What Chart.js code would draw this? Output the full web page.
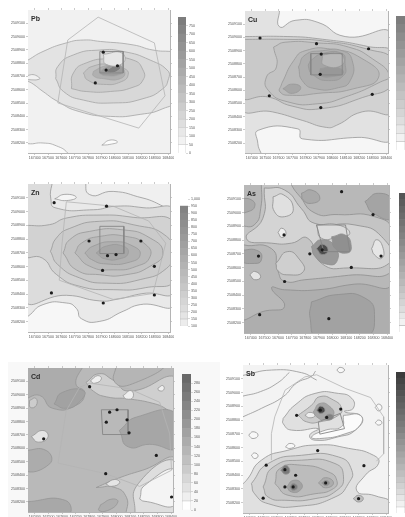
<!DOCTYPE html>
<html>
<head>
<meta charset="utf-8">
<script src="https://cdn.jsdelivr.net/npm/chart.js@4"></script>
<style>
  html, body { margin: 0; background: #fff; overflow: hidden; width: 405px; height: 517px; }
  canvas { position: absolute; filter: blur(0.7px); }
  #cdBack { position: absolute; left: 8px; top: 362px; width: 212px; height: 155px; background: #f8f8f8; }
</style>
</head>
<body>
<div id="cdBack"></div>
<script>
// map units are percent of each frame, x from west, y from south
const fullFrame = [[-30, -30], [130, -30], [130, 130], [-30, 130]];

const xTickValues = [4.7, 14.1, 23.5, 32.9, 42.3, 51.7, 61.1, 70.5, 79.9, 89.3, 98.7];
const yTickValues = [7, 16.3, 25.6, 34.9, 44.2, 53.5, 62.8, 72.1, 81.4, 90.7];
const xTickLabels = ["167400", "167500", "167600", "167700", "167800", "167900", "168000", "168100", "168200", "168300", "168400"];
const yTickLabels = ["2508200", "2508300", "2508400", "2508500", "2508600", "2508700", "2508800", "2508900", "2509000", "2509100"];

// Pb
const pbContours = [
  fullFrame,
  [[-1, 8], [0, 6.5], [10.6, 7], [20, 5], [28, 0], [28, -3], [-1, -3]],
  [[0, 65], [10.6, 71], [27, 77], [39, 79], [51, 78], [74, 75.6], [88, 72], [101, 71], [103, 71], [103, 37], [95, 31], [79, 27], [58, 25.6], [36, 29], [21, 36], [10.6, 43], [2.4, 49], [-2, 51], [8, 51.6], [4.7, 54.6], [-2, 55], [-2, 64]],
  [[19.5, 52], [21, 60.5], [32, 68.6], [50.6, 72], [67, 71], [86, 65], [99, 57], [99, 52], [95, 45], [81, 38], [60, 35], [39, 37], [25, 43]],
  [[30.6, 45], [32, 56], [41, 63], [58, 66], [74, 65], [81, 58], [81, 51], [74, 46], [58, 43], [41, 43]],
  [[39, 56], [45, 60.5], [58, 62], [68, 59], [70.6, 55], [66, 50], [53, 48], [42, 51]],
  [[46, 57], [53, 60.5], [62, 62], [68, 57], [65, 52], [53, 52], [46, 54]],
  [[50.6, 57], [55, 60], [62, 63], [67, 58], [65, 55], [55, 54], [50.6, 55.7]],
  [[54, 58], [58, 59.5], [62.5, 63], [65, 60.5], [64, 58], [58, 56]],
  [[53, 69], [66, 70], [67, 63], [55, 62]],
  [[52, 5.5], [57.6, 9], [63, 7.7], [57.6, 6]]
];
const pbShades = ["#f1f1f1", "#fafafa", "#e3e3e3", "#d8d8d8", "#cdcdcd", "#c2c2c2", "#b0b0b0", "#9c9c9c", "#7e7e7e", "#e6e6e6", "#fcfcfc"];
const pbSamples = [[63, 61], [55, 58], [47.4, 49], [53, 70.5]];
const pbBoundary = [[49.4, 95], [89, 77], [96.5, 40], [78, 17.4], [21, 35], [28, 79], [49.4, 95]];
const pbBox = [[50.6, 71], [67, 71], [67, 56], [50.6, 56], [50.6, 71]];

// Cu
const cuContours = [
  fullFrame,
  [[-3, 104], [22, 104], [24, 89], [35, 93.4], [51, 92], [70, 82], [104, 82], [104, 12.4], [79, 11], [40, 10], [37, 17], [9.3, 16], [9, 6.6], [10.5, -3], [-3, -3]],
  [[-3, 82], [30, 82], [51, 80.5], [86, 75], [104, 69], [104, 30], [82, 29], [64, 19.5], [57, 18], [40, 23], [19, 29], [-3, 32.4]],
  [[-3, 80], [30, 80], [54, 79], [86, 73], [104, 65], [104, 49], [82, 39], [53, 31.2], [33, 33], [16, 39.5], [-3, 40.6]],
  [[20, 74.6], [22, 60.6], [15, 53.5], [16.4, 44], [30, 36], [51, 34.7], [70, 39.4], [94.6, 50], [101, 54.7], [89, 66.4], [72.4, 74.6], [51, 77.5], [28, 78]],
  [[25.7, 49], [34, 65], [42, 72], [61, 73], [82, 66.4], [93.5, 53.5], [75, 45], [51, 42], [33, 40.6], [24.5, 43]],
  [[37.4, 60.6], [42, 69], [54, 72], [68, 72], [75, 65], [73.6, 51], [65.4, 46], [49, 45.3], [40, 51]],
  [[45.6, 65], [54, 70], [68, 70], [70, 63], [69, 54.7], [58.4, 51], [48, 54.7], [44.4, 60.6]],
  [[52.6, 59.4], [62, 60.6], [69, 57], [62, 54], [52.6, 54.7]],
  [[26.5, 45.3], [32.7, 48.5], [39, 46], [33, 42]],
  [[54, 69], [66.6, 70], [68, 62], [55, 62]]
];
const cuShades = ["#f6f6f6", "#e2e2e2", "#d2d2d2", "#c9c9c9", "#c3c3c3", "#b9b9b9", "#aeaeae", "#a4a4a4", "#989898", "#a6a6a6", "#b8b8b8"];
const cuSamples = [[10.5, 81], [50, 77], [86.4, 73.4], [53.3, 69.7], [52.6, 55.4], [17, 40.3], [89, 41.3], [53, 32]];
const cuBoundary = [];
const cuBox = [[46, 55], [68, 55], [68, 70], [46, 70], [46, 55]];

// Zn
const znContours = [
  fullFrame,
  [[-3, 104], [104, 104], [104, 20.7], [79, 18.5], [67, 14], [50.6, 7.2], [37.6, 9], [34, 16], [27, 19.6], [10.6, 18.5], [0, 10.6], [-3, 9]],
  [[40, 104], [43.5, 92.8], [60, 95], [81, 90.5], [104, 85], [104, 104]],
  [[-3, 104], [15, 104], [16, 90.5], [19, 84], [46, 82.6], [62, 85], [81, 84], [104, 80.4], [104, 28.6], [81, 26], [62, 22], [50.6, 21], [27, 24.8], [-3, 23]],
  [[-3, 72], [15, 72.5], [27, 77], [50, 79], [74, 77.5], [104, 72.5], [104, 36.5], [83, 30], [60, 28.6], [36, 31], [20, 38.9], [10, 50], [-3, 52]],
  [[15.8, 54.5], [20, 63.5], [29.4, 70], [50.6, 74.8], [74, 72.5], [97.6, 64.6], [101, 52.3], [97.6, 43], [79, 35.4], [55, 33], [36.5, 36.5], [21, 45.5]],
  [[24.7, 53.4], [29.4, 62.4], [43.5, 68], [67, 69], [86, 63.5], [95, 53.4], [86, 44.4], [69, 38.7], [50.6, 38.7], [34, 42]],
  [[33, 53.4], [37.6, 60], [50.6, 64.6], [69, 64.6], [83, 59], [86, 51], [76.5, 44.4], [60, 42], [43.5, 44.4]],
  [[40, 53.4], [45.8, 58], [60, 61], [74, 58], [79, 52.3], [72, 47.3], [55, 46], [44.7, 49]],
  [[48, 53.4], [55, 58], [67, 58], [70.6, 53.4], [64.7, 49.5], [54, 49.5]],
  [[18.8, 90], [26, 93], [34, 91], [27, 88.8]]
];
const znShades = ["#f7f7f7", "#e9e9e9", "#f0f0f0", "#dcdcdc", "#d2d2d2", "#cbcbcb", "#c3c3c3", "#bababa", "#b0b0b0", "#a6a6a6", "#f5f5f5"];
const znSamples = [[18.4, 87.4], [55.3, 85], [43, 61.5], [79.5, 61.5], [52.5, 41.6], [89, 44.4], [16.5, 26.4], [89, 25], [53, 19.6], [62, 52.3], [56, 51.6]];
const znBoundary = [[27, 88], [24, 60], [22, 35], [60, 22], [88, 26], [97, 60], [85, 75], [60, 85], [27, 88]];
const znBox = [[50.6, 71.4], [67.5, 71.4], [67.5, 53], [50.6, 53], [50.6, 71.4]];

// As
const asContours = [
  fullFrame,
  [[46.5, 21], [65, 26], [83.4, 23.6], [90, 12.4], [83.4, -3], [51, -3], [45.6, 10]],
  [[-3, 103], [103, 103], [103, 35], [76, 33], [51, 29.2], [28, 29.2], [19, 30.4], [28, 18], [15, 15], [-3, 12]],
  [[12, 103], [11.5, 84], [7, 73], [-3, 71], [-3, 61], [19, 57], [23.5, 41.6], [28, 35], [42, 36], [72, 39], [103, 42.7], [103, 68.5], [90, 78.6], [65, 80], [49, 81], [37, 94], [28, 103]],
  [[14, 98], [28, 96.6], [39.6, 84], [49, 74], [76.5, 73], [95, 65], [101, 48], [72, 44], [53.5, 47], [44, 64], [32.7, 60.7], [19, 60.7], [1.6, 64], [13, 77.5]],
  [[22, 47], [30, 55], [38.5, 49.4], [41, 41.6], [30.4, 39.3], [23.5, 42]],
  [[20, 92], [27, 93.5], [34, 84], [28, 78.6], [21, 82]],
  [[23.5, 68], [26, 70.8], [29, 67.4], [26, 64.5]],
  [[88, 57], [91.5, 63], [96, 57], [95, 50.5], [90, 52.8]],
  [[4, 39.3], [7.4, 41.6], [11.5, 38], [7.4, 36]],
  [[83.4, 88.8], [92.6, 94.4], [103, 88.8], [103, 77.5], [89, 81]],
  [[39.6, 94.4], [46.5, 96.6], [52.3, 91], [46.5, 87.6], [40.8, 89.9]],
  [[-3, 91], [5, 90], [7.4, 85.6], [2.8, 82], [-3, 82]],
  [[-3, 56], [9.7, 55.5], [12, 49.4], [7.4, 47], [-3, 49.4]],
  [[50, 73], [65, 73], [73, 67.4], [65, 65], [53.5, 64]],
  [[46.5, 58.4], [53.5, 63], [62.7, 58.4], [64, 48.3], [57, 46.5], [49, 51.7]],
  [[60.4, 65], [69.6, 66.3], [74, 58.4], [71, 54], [62.7, 57.3]],
  [[50, 57], [54, 60], [58, 56], [54, 53]]
];
const asShades = ["#aeaeae", "#a2a2a2", "#b8b8b8", "#c4c4c4", "#d4d4d4", "#cfcfcf", "#e0e0e0", "#eeeeee", "#e6e6e6", "#e4e4e4", "#a4a4a4", "#a9a9a9", "#a9a9a9", "#a4a4a4", "#dcdcdc", "#999999", "#909090", "#4c4c4c"];
const asSamples = [[67.3, 95.5], [89, 80], [27.6, 66.3], [45.4, 53.5], [54, 56.2], [74, 44.3], [28, 34.8], [10.8, 12.4], [94.5, 52], [58.5, 9.7], [10, 52]];
const asBoundary = [];
const asBox = [[50, 73], [70, 73], [73, 55], [55, 55], [50, 73]];

// Cd
const cdContours = [
  fullFrame,
  [[-3, 103], [36, 103], [33, 89], [39, 83], [33, 74], [17, 72], [8, 81], [-3, 80]],
  [[18, 75], [23.6, 83], [38.6, 84], [35, 76], [26, 72]],
  [[40, 90], [49, 96], [58, 92], [70, 84], [103, 93.5], [103, 70], [88, 75], [70, 78.5], [54, 80], [45, 84]],
  [[61, 103], [94, 103], [72, 89], [60, 90]],
  [[63, 56.6], [75, 66], [103, 68], [103, 45], [84, 47], [69, 45.3]],
  [[-3, 42.7], [12.6, 42.7], [15, 33.5], [-3, 29]],
  [[-3, 7], [26, 8], [27, -3], [-3, -3]],
  [[47, 17], [61, 23], [79, 29], [103, 36], [103, -3], [70, -3], [68, 10], [60, 17]],
  [[73.6, -3], [76, 19.6], [103, 34.6], [103, -3]],
  [[77, 9], [80.5, 18.5], [103, 29], [103, 6], [80, 7.5]],
  [[50, 5], [58, 9], [62, 7], [55, 1], [49, 1]],
  [[2.3, 52.4], [10.3, 56.6], [13.8, 52], [7, 48.5]],
  [[1, 77.4], [5.3, 79], [5.7, 74], [1.6, 72.7]],
  [[43, 91], [48, 94.7], [50.6, 92.4], [46, 89.4]],
  [[65.5, 80.8], [71, 84.3], [72.4, 79.7], [67.8, 78.5]],
  [[89.6, 86], [93, 87.8], [93.6, 84.8], [90.3, 84.3]],
  [[53.6, 19.6], [59.8, 22.6], [63.2, 20.3], [57.5, 17.8]]
];
const cdShades = ["#b9b9b9", "#acacac", "#a2a2a2", "#cfcfcf", "#b5b5b5", "#a6a6a6", "#acacac", "#a8a8a8", "#c9c9c9", "#dedede", "#f4f4f4", "#aeaeae", "#e5e5e5", "#cccccc", "#efefef", "#efefef", "#efefef", "#e5e5e5"];
const cdSamples = [[42.5, 87], [54, 62.4], [56.3, 69.3], [61.4, 71], [68.3, 64], [69.7, 55], [10.8, 50.8], [88.5, 39.3], [53.6, 26.6], [99, 10.4]];
const cdBoundary = [[35.6, 86.6], [26.4, 70.4], [20.7, 34], [53.6, 26.6], [77, 17.8], [99, 29], [97.7, 54.3], [90.8, 76.2], [70, 85.5], [42.5, 89.5], [35.6, 86.6]];
const cdBox = [[50.6, 71], [69, 71], [69, 53.8], [51.5, 53.8], [50.6, 71]];

// Sb
const sbContours = [
  fullFrame,
  [[-3, 17.6], [2.3, 22], [12.7, 35.7], [31, 42.4], [52, 46], [72.7, 43.7], [90, 39], [93.5, 33.5], [84.3, 25.5], [78.5, 15], [91, 11.7], [103, 6.3], [103, -3], [-3, -3]],
  [[5.8, 19.9], [17.3, 33.4], [40.4, 39], [65.8, 37.9], [75, 28.9], [72.7, 19.9], [63.5, 10.8], [38, 4.5], [17.3, 6.3], [8, 13]],
  [[13.9, 17.6], [20.8, 31], [40.4, 35.7], [63.5, 33.4], [69.3, 24.4], [64.7, 15.3], [49.7, 9.7], [28.9, 8.6], [17.3, 10.8]],
  [[22, 19.9], [25.4, 30], [40.4, 32.3], [58.9, 27.8], [64.7, 22], [62.4, 16.5], [49.7, 13], [31, 12]],
  [[26, 28.9], [29.3, 32.3], [32.3, 28.4], [29.3, 26.2]],
  [[30, 17.6], [34.6, 22], [40.4, 19.9], [39.3, 15.3], [33.5, 14.2]],
  [[32.3, 17.6], [34.6, 19.9], [37.6, 17.6], [34.6, 15.3]],
  [[52, 20.3], [57, 23.9], [62.4, 20.3], [57, 17]],
  [[54.3, 20.3], [57.3, 22], [59.6, 20.3], [57.3, 18.5]],
  [[76, 9.7], [79.7, 12], [83, 9.7], [79.7, 7.4]],
  [[27.7, 63.9], [35.8, 72.9], [49.7, 80.8], [65.8, 80.8], [75, 77.5], [76, 70.7], [70, 68.5], [82, 65], [77.5, 56], [65.8, 51.5], [49.7, 49.2], [46, 52.6], [52, 57], [33.5, 56], [27.7, 60.4]],
  [[69.3, 66], [80.8, 66], [80.8, 59.4], [70.4, 53.5], [53, 50.3], [47.3, 51.4], [56.6, 55.9], [68, 58.4]],
  [[38, 66], [47.3, 72.9], [53, 78.6], [62.4, 76.3], [68, 70.7], [65.8, 66], [53, 61.6], [43.9, 61.6]],
  [[42.7, 66], [46.2, 68], [49.7, 66], [46.2, 64.3]],
  [[48.5, 68.4], [53, 74], [60, 71.8], [62.4, 66], [56.6, 62.8], [50.8, 65]],
  [[50.8, 69.5], [53.5, 72.2], [56.6, 69.5], [53.5, 67.3]],
  [[56, 64.6], [59.4, 66.8], [62.4, 65], [59.4, 62.8]],
  [[64.7, 96.6], [67, 98.4], [70, 96.6], [67, 94.8]],
  [[3.9, 52.6], [6.9, 54.9], [10.4, 52.6], [6.9, 50.3]],
  [[5.8, 39], [8, 40.6], [10.4, 38.6], [8, 36.8]],
  [[29.3, 44.7], [32.3, 47], [35.8, 45.4], [32.3, 43.6]],
  [[91.2, 71.3], [93.5, 73.6], [95.8, 71.3], [93.5, 69]],
  [[91.2, 61], [93.5, 62.8], [95.8, 61], [93.5, 59.4]]
];
const sbShades = ["#f3f3f3", "#e0e0e0", "#d4d4d4", "#c8c8c8", "#bcbcbc", "#7a7a7a", "#a2a2a2", "#7c7c7c", "#acacac", "#8e8e8e", "#bdbdbd", "#e0e0e0", "#fbfbfb", "#cccccc", "#eeeeee", "#a6a6a6", "#4a4a4a", "#808080", "#f8f8f8", "#f8f8f8", "#f8f8f8", "#f8f8f8", "#f8f8f8", "#f8f8f8"];
const sbSamples = [[37, 66], [53.3, 69.5], [67.4, 70.2], [57.7, 64.6], [51.5, 42.2], [16, 32.3], [83.4, 32], [36.3, 25.5], [28.9, 29.3], [28.9, 17.6], [57, 20.3], [13.9, 10], [79.7, 9.7], [34.6, 17.6]];
const sbBoundary = [[19.6, 35.7], [19.6, 53.7], [21.9, 65], [29, 83], [42.7, 92], [50.8, 93.4], [71, 84], [88, 78], [97, 65], [97, 40], [92, 35]];
const sbBox = [[51.9, 61.6], [67, 67.3], [70, 57], [53, 53.3], [51.9, 61.6]];
const sbIsoA = [[0, 65], [12.7, 70.7], [27.7, 78.6], [37, 87.8], [47.3, 92.4], [50, 95.9]];
const sbIsoB = [[0, 93], [19.6, 96.6], [40.4, 94.8], [50.8, 89.8]];
const sbIsoC = [[0, 79], [12, 82], [24, 88], [32, 95]];

// colour bar labels, lowest first
const pbBarLabels = [0, 50, 100, 150, 200, 250, 300, 350, 400, 450, 500, 550, 600, 650, 700, 750];
const cuBarLabels = [0, 20, 40, 60, 80, 100, 120, 140, 160, 180, 200, 220, 240, 260, 280, 300];
const znBarLabels = [100, 150, 200, 250, 300, 350, 400, 450, 500, 550, 600, 650, 700, 750, 800, 850, 900, 950, 1000];
const asBarLabels = [0, 10, 20, 30, 40, 50, 60, 70, 80, 90, 100, 110, 120, 130, 140, 150, 160, 170, 180, 190, 200];
const cdBarLabels = [0, 20, 40, 60, 80, 100, 120, 140, 160, 180, 200, 220, 240, 260, 280];
const sbBarLabels = [0, 2, 4, 6, 8, 10, 12, 14, 16, 18, 20, 22, 24, 26, 28, 30, 32, 34, 36, 38, 40, 42, 44];

const panels = [
  { name: "Pb", contours: pbContours, shades: pbShades, samples: pbSamples, boundary: pbBoundary, box: pbBox, isolines: [], line: "#a4a4a4", bar: pbBarLabels, barTop: 125,
    frame: [28, 10, 142, 143], barBox: [178, 17, 8, 136] },
  { name: "Cu", contours: cuContours, shades: cuShades, samples: cuSamples, boundary: cuBoundary, box: cuBox, isolines: [], line: "#989898", bar: cuBarLabels, barTop: 125,
    frame: [245, 11, 143, 142], barBox: [396, 16, 9, 134] },
  { name: "Zn", contours: znContours, shades: znShades, samples: znSamples, boundary: znBoundary, box: znBox, isolines: [], line: "#989898", bar: znBarLabels, barTop: 130,
    frame: [28, 184, 142, 148], barBox: [180, 192, 8, 134] },
  { name: "As", contours: asContours, shades: asShades, samples: asSamples, boundary: asBoundary, box: asBox, isolines: [], line: "#8e8e8e", bar: asBarLabels, barTop: 85,
    frame: [244, 185, 145, 148], barBox: [399, 193, 8, 139] },
  { name: "Cd", contours: cdContours, shades: cdShades, samples: cdSamples, boundary: cdBoundary, box: cdBox, isolines: [], line: "#959595", bar: cdBarLabels, barTop: 105,
    frame: [28, 368, 145, 144], barBox: [182, 374, 9, 136] },
  { name: "Sb", contours: sbContours, shades: sbShades, samples: sbSamples, boundary: sbBoundary, box: sbBox, isolines: [sbIsoA, sbIsoB, sbIsoC], line: "#949494", bar: sbBarLabels, barTop: 60,
    frame: [243, 365, 145, 148], barBox: [396, 372, 9, 141] }
];

const tickFont = { family: "Liberation Sans", size: 3.6 };
const tickGray = "#555555";

function addCanvas(left, top, width, height) {
  const c = document.createElement("canvas");
  c.width = width;
  c.height = height;
  c.style.left = left + "px";
  c.style.top = top + "px";
  document.body.appendChild(c);
  return c;
}

function fixedSize(prop, size) {
  return function (scale) {
    scale[prop] = size;
    scale.paddingLeft = scale.paddingRight = scale.paddingTop = scale.paddingBottom = 0;
  };
}

function mapAxis(position, values, labels, size) {
  const horizontal = position === "bottom" || position === "top";
  return {
    type: "linear",
    position: position,
    min: 0,
    max: 100,
    afterBuildTicks: (scale) => { scale.ticks = values.map((v) => ({ value: v })); },
    afterFit: fixedSize(horizontal ? "height" : "width", size),
    border: { color: "#b4b4b4", width: 1 },
    grid: { drawOnChartArea: false, color: "#a8a8a8", tickLength: 2, lineWidth: 0.6 },
    ticks: {
      display: labels !== null,
      autoSkip: false,
      maxRotation: 0,
      padding: 1,
      font: tickFont,
      color: tickGray,
      callback: (v, i) => (labels ? labels[i] : ""),
    },
  };
}

function drawMap(p) {
  const f = p.frame;
  const canvas = addCanvas(f[0] - 22, f[1] - 4, f[2] + 26, f[3] + 16);
  const datasets = [];
  const lineSet = (pts, color, width, tension) => ({
    data: pts, showLine: true, fill: false, borderColor: color, borderWidth: width,
    pointRadius: 0, tension: tension,
  });
  datasets.push({ data: p.samples, showLine: false, pointRadius: 1.6, pointBorderWidth: 0, pointBackgroundColor: "#1c1c1c" });
  datasets.push(lineSet(p.box, "#868686", 0.9, 0));
  if (p.boundary.length) datasets.push(lineSet(p.boundary, "#b4b4b4", 0.8, 0));
  p.isolines.forEach((iso) => datasets.push(lineSet(iso, p.line, 0.8, 0.5)));
  // first dataset is painted last, so the highest contour goes in front
  for (let i = p.contours.length - 1; i >= 0; i--) {
    datasets.push({
      data: p.contours[i].concat([p.contours[i][0]]),
      showLine: true,
      fill: "shape",
      backgroundColor: p.shades[i],
      borderColor: i === 0 ? p.shades[i] : p.line,
      borderWidth: 0.8,
      pointRadius: 0,
      tension: i === 0 ? 0 : 0.55,
    });
  }
  new Chart(canvas, {
    type: "scatter",
    data: { datasets: datasets },
    options: {
      responsive: false,
      animation: false,
      events: [],
      layout: { padding: 0 },
      plugins: { legend: { display: false }, tooltip: { enabled: false } },
      scales: {
        x: mapAxis("bottom", xTickValues, xTickLabels, 12),
        y: mapAxis("left", yTickValues, yTickLabels, 22),
        xTop: mapAxis("top", xTickValues, null, 4),
        yRight: mapAxis("right", yTickValues, null, 4),
      },
    },
    plugins: [{
      id: "panelName",
      afterDatasetsDraw(chart) {
        const ctx = chart.ctx;
        ctx.save();
        ctx.font = "bold 7px 'Liberation Sans'";
        ctx.fillStyle = "#2c2c2c";
        ctx.fillText(p.name, chart.chartArea.left + 3, chart.chartArea.top + 11);
        ctx.restore();
      },
    }],
  });
}

function drawBar(p) {
  const b = p.barBox;
  const canvas = addCanvas(b[0], b[1] - 3, b[2] + 24, b[3] + 6);
  const step = p.bar[1] - p.bar[0];
  const n = p.bar.length;
  const datasets = p.bar.map((label, i) => {
    const g = Math.round(255 - (255 - p.barTop) * Math.pow(i / (n - 1), 0.85));
    return {
      data: [step],
      backgroundColor: "rgb(" + g + "," + g + "," + g + ")",
      borderColor: "#b5b5b5",
      borderWidth: i < n / 3 ? 0.6 : 0,
      barPercentage: 1,
      categoryPercentage: 1,
    };
  });
  new Chart(canvas, {
    type: "bar",
    data: { labels: [p.name], datasets: datasets },
    options: {
      responsive: false,
      animation: false,
      events: [],
      layout: { padding: { top: 3, bottom: 3 } },
      plugins: { legend: { display: false }, tooltip: { enabled: false } },
      scales: {
        x: { stacked: true, display: false },
        y: {
          stacked: true,
          position: "right",
          min: p.bar[0],
          max: p.bar[0] + n * step,
          afterBuildTicks: (scale) => { scale.ticks = p.bar.map((v) => ({ value: v })); },
          afterFit: fixedSize("width", 24),
          border: { display: false },
          grid: { drawOnChartArea: false, color: "#b0b0b0", tickLength: 2, lineWidth: 0.5 },
          ticks: { autoSkip: false, padding: 1, font: tickFont, color: tickGray },
        },
      },
    },
  });
}

panels.forEach((p) => {
  drawMap(p);
  drawBar(p);
});
</script>
</body>
</html>
